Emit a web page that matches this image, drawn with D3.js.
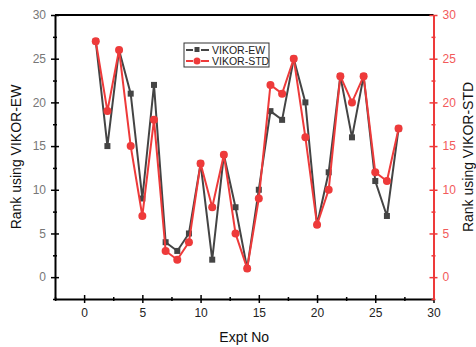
<!DOCTYPE html>
<html>
<head>
<meta charset="utf-8">
<script src="https://cdn.jsdelivr.net/npm/d3@7"></script>
<style>
  body { margin: 0; background: #fff; }
  svg { font-family: "Liberation Sans", Arial, sans-serif; }
</style>
</head>
<body>
<div id="chart"></div>
<script>
// data
const expt = [1,2,3,4,5,6,7,8,9,10,11,12,13,14,15,16,17,18,19,20,21,22,23,24,25,26,27];
const rankEW  = [27,15,26,21,9,22,4,3,5,13,2,14,8,1,10,19,18,25,20,6,12,23,16,23,11,7,17];
const rankSTD = [27,19,26,15,7,18,3,2,4,13,8,14,5,1,9,22,21,25,16,6,10,23,20,23,12,11,17];
const majorTicks = [0,5,10,15,20,25,30];
const minorTicks = [-2.5,2.5,7.5,12.5,17.5,22.5,27.5];

const width = 476, height = 347;
const black = "#444", red = "#ee3a3a";

const svg = d3.select("#chart").append("svg")
  .attr("width", width)
  .attr("height", height);

const x = d3.scaleLinear().domain([-2.5, 30]).range([55, 433.5]);
const y = d3.scaleLinear().domain([-2.5, 30]).range([299, 15]);
const y2 = y.copy();

// top frame line
svg.append("line")
  .attr("x1", x(-2.5)).attr("x2", x(30))
  .attr("y1", y(30)).attr("y2", y(30))
  .attr("stroke", "#000").attr("stroke-width", 2);

// axes
const drawAxis = (axis, transform, col, labelCol) => {
  const g = svg.append("g").attr("transform", transform).call(axis);
  g.select(".domain").attr("stroke", col).attr("stroke-width", 2);
  g.selectAll(".tick line").attr("stroke", col).attr("stroke-width", 1.5);
  g.selectAll(".tick text").attr("fill", labelCol).style("font-size", "12px");
  return g;
};

// x axis
let gx = drawAxis(d3.axisBottom(x).tickValues(majorTicks).tickSize(4).tickSizeOuter(0).tickPadding(5),
  `translate(0,${y(-2.5)})`, "#000", "#222");
gx.selectAll(".tick line").attr("y1", -4);
let gxm = svg.append("g").attr("transform", `translate(0,${y(-2.5)})`)
  .call(d3.axisBottom(x).tickValues(minorTicks).tickSize(2).tickFormat(""));
gxm.select(".domain").remove();
gxm.selectAll(".tick line").attr("y1", -2).attr("stroke", "#000").attr("stroke-width", 1.5);

// left y axis
let gy = drawAxis(d3.axisLeft(y).tickValues(majorTicks).tickSize(4).tickSizeOuter(0).tickPadding(5),
  `translate(${x(-2.5)},0)`, "#000", "#777");
gy.selectAll(".tick line").attr("x1", 4);
let gym = svg.append("g").attr("transform", `translate(${x(-2.5)},0)`)
  .call(d3.axisLeft(y).tickValues(minorTicks).tickSize(2).tickFormat(""));
gym.select(".domain").remove();
gym.selectAll(".tick line").attr("x1", 2).attr("stroke", "#000").attr("stroke-width", 1.5);

// right y axis (red)
let gy2 = drawAxis(d3.axisRight(y2).tickValues(majorTicks).tickSize(4).tickSizeOuter(0).tickPadding(5),
  `translate(${x(30)},0)`, red, "#f25a5a");
gy2.selectAll(".tick line").attr("x1", -4);
let gy2m = svg.append("g").attr("transform", `translate(${x(30)},0)`)
  .call(d3.axisRight(y2).tickValues(minorTicks).tickSize(2).tickFormat(""));
gy2m.select(".domain").remove();
gy2m.selectAll(".tick line").attr("x1", -2).attr("stroke", red).attr("stroke-width", 1.5);

// axis titles
svg.append("text")
  .attr("transform", `translate(21,157) rotate(-90)`)
  .attr("text-anchor", "middle")
  .style("font-size", "14px").attr("fill", "#111")
  .text("Rank using VIKOR-EW");
svg.append("text")
  .attr("transform", `translate(473,157) rotate(-90)`)
  .attr("text-anchor", "middle")
  .style("font-size", "14px").attr("fill", "#111")
  .text("Rank using VIKOR-STD");
svg.append("text")
  .attr("x", (x(-2.5) + x(30)) / 2).attr("y", 342)
  .attr("text-anchor", "middle")
  .style("font-size", "14px").attr("fill", "#111")
  .text("Expt No");

// series
const line = d3.line().x(d => x(d[0])).y(d => y(d[1]));
const ewPts = expt.map((e, i) => [e, rankEW[i]]);
const stdPts = expt.map((e, i) => [e, rankSTD[i]]);

svg.append("path").datum(ewPts)
  .attr("d", line).attr("fill", "none")
  .attr("stroke", black).attr("stroke-width", 2);
svg.selectAll(".sq").data(ewPts).enter().append("rect")
  .attr("class", "sq")
  .attr("x", d => x(d[0]) - 3).attr("y", d => y(d[1]) - 3)
  .attr("width", 6).attr("height", 6)
  .attr("fill", black);

svg.append("path").datum(stdPts)
  .attr("d", line).attr("fill", "none")
  .attr("stroke", red).attr("stroke-width", 2);
svg.selectAll(".ci").data(stdPts).enter().append("circle")
  .attr("class", "ci")
  .attr("cx", d => x(d[0])).attr("cy", d => y(d[1]))
  .attr("r", 4)
  .attr("fill", red);

// legend
const leg = svg.append("g").attr("transform", "translate(184,43)");
leg.append("rect").attr("width", 85).attr("height", 24)
  .attr("fill", "#fff").attr("stroke", "#333").attr("stroke-width", 1);
const legItems = [
  { name: "VIKOR-EW", col: black, shape: "sq" },
  { name: "VIKOR-STD", col: red, shape: "ci" }
];
legItems.forEach((it, i) => {
  const cy = 7 + i * 11;
  leg.append("line").attr("x1", 2).attr("x2", 9).attr("y1", cy).attr("y2", cy)
    .attr("stroke", it.col).attr("stroke-width", 2);
  leg.append("line").attr("x1", 17).attr("x2", 25).attr("y1", cy).attr("y2", cy)
    .attr("stroke", it.col).attr("stroke-width", 2);
  if (it.shape === "sq") {
    leg.append("rect").attr("x", 10.5).attr("y", cy - 3).attr("width", 5).attr("height", 5).attr("fill", it.col);
  } else {
    leg.append("circle").attr("cx", 13).attr("cy", cy).attr("r", 3.5).attr("fill", it.col);
  }
  leg.append("text").attr("x", 28).attr("y", cy + 4)
    .style("font-size", "10.5px").attr("fill", "#222")
    .text(it.name);
});
</script>
</body>
</html>
